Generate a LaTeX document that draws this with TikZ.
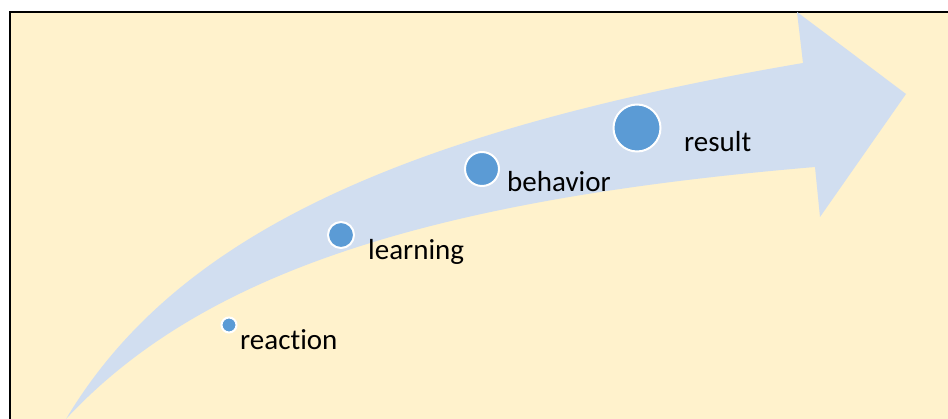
\documentclass[tikz,border=0pt]{standalone}
\usepackage{fontspec}
\setmainfont[Ligatures=NoCommon]{Carlito}
\usepackage{tikz}
\usetikzlibrary{positioning}
\definecolor{cream}{HTML}{FFF2CC}
\definecolor{arrowblue}{HTML}{D1DEF0}
\definecolor{dotblue}{HTML}{5B9BD5}

\begin{document}
\begin{tikzpicture}[x=1pt, y=-1pt, every node/.style={font=\fontsize{29}{34}\selectfont}]
    	\tikzstyle{dot}=[circle,fill=dotblue,draw=white,line width=2pt,inner sep=0pt]
    	\tikzstyle{lbl}=[anchor=base west,inner sep=0pt,text=black]
    \useasboundingbox (0,0) rectangle (948,419);
    \clip (0,0) rectangle (948,419);
    \fill[white] (0,0) rectangle (948,419);
    \draw[line width=2pt,fill=cream] (10,12) rectangle (970,440);
    % big bent arrow
    \fill[arrowblue] (66,419) .. controls (170,245) and (380,135) .. (803,63)
        -- (797,12) -- (906,94) -- (820,217) -- (815,167)
        .. controls (424,200) and (200,275) .. (66,419) -- cycle;
    % steps along the arrow
    \node[dot,minimum size=15pt] (react) at (229,325) {};
    \node[dot,minimum size=26pt] (learn) at (341,235) {};
    \node[dot,minimum size=34pt] (behav) at (482,169) {};
    \node[dot,minimum size=47pt] (res) at (637,128) {};
    \node[lbl] (lreact) at (240,350) {reaction};
    \node[lbl] (llearn) at (368,260) {learning};
    \node[lbl] (lbehav) at (507,192) {behavior};
    \node[lbl] (lres) at (684,152) {result};
  \end{tikzpicture}
\end{document}
